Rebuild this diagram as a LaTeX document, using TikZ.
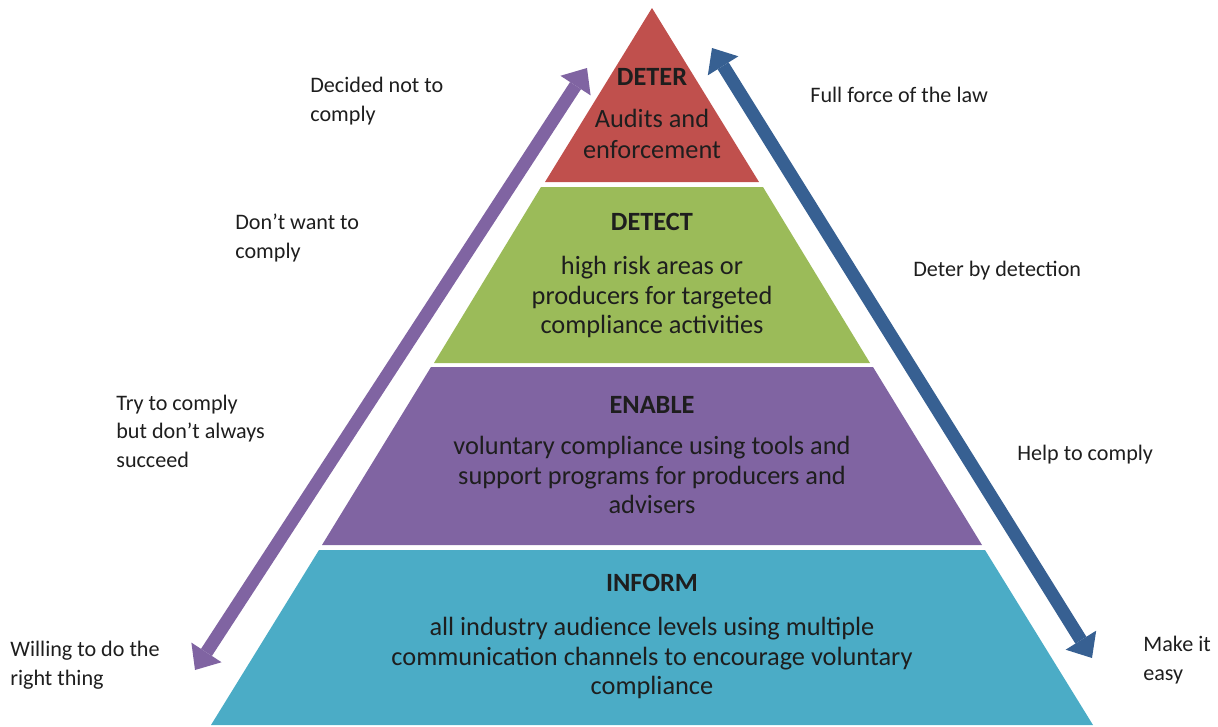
\documentclass[tikz,border=0pt]{standalone}
\usepackage{fontspec}
\setmainfont{Carlito}
\usepackage{tikz}
\usetikzlibrary{arrows.meta, positioning, calc}
\definecolor{deterred}{RGB}{192,80,77}
\definecolor{detectgreen}{RGB}{155,187,89}
\definecolor{enablepurple}{RGB}{128,100,162}
\definecolor{informteal}{RGB}{75,172,198}
\definecolor{arrowblue}{RGB}{55,96,146}
\definecolor{textgrey}{RGB}{30,30,30}
\tikzset{
  layer/.style={draw=none},
  title/.style={
      font=\fontsize{15}{18}\selectfont\bfseries,
      text=textgrey,
      inner sep=0pt
  },
  body/.style={
      font=\fontsize{15}{16.8}\selectfont,
      text=textgrey,
      align=center,
      inner sep=0pt
  },
  side/.style={
      font=\fontsize{12.6}{16.2}\selectfont,
      text=textgrey,
      align=left,
      anchor=west,
      inner sep=0pt
  },
  bigarrow/.style={
      line width=0.26cm,
      {Triangle[width=0.72cm,length=0.42cm,line width=0pt]}-{Triangle[width=0.72cm,length=0.42cm,line width=0pt]}
  }
}

\begin{document}
\begin{tikzpicture}[x=0.02cm, y=-0.02cm]
      \useasboundingbox (0,0) rectangle (1218,727);

      % Pyramid layers
      \fill[deterred] (652,8) -- (759,182) -- (545,182) -- cycle;
      \fill[detectgreen] (541,187) -- (763,187) -- (870,363) -- (434,363) -- cycle;
      \fill[enablepurple] (431,367) -- (873,367) -- (982,545) -- (322,545) -- cycle;
      \fill[informteal] (319,550) -- (985,550) -- (1093,725) -- (211,725) -- cycle;

      % Layer texts
      \node (deter) [title] at (652,77) {DETER};
      \node (deterbody) [body, font=\fontsize{15}{18}\selectfont] at (652,134) {Audits and\\enforcement};
      \node (detect) [title] at (652,222) {DETECT};
      \node (detectbody) [body] at (652,297) {high risk areas or\\producers for targeted\\compliance activities};
      \node (enable) [title] at (652,405) {ENABLE};
      \node (enablebody) [body] at (652,475) {voluntary compliance using tools and\\support programs for producers and\\advisers};
      \node (inform) [title] at (652,583) {INFORM};
      \node (informbody) [body] at (652,658) {all industry audience levels using multiple\\communication channels to encourage voluntary\\compliance};

      % Arrows
      \coordinate (leftup) at (587,68);
      \coordinate (leftdown) at (195,670);
      \coordinate (rightup) at (712,48);
      \coordinate (rightdown) at (1092,658);
      \draw[bigarrow, enablepurple] (leftup) -- (leftdown);
      \draw[bigarrow, arrowblue] (rightup) -- (rightdown);

      % Left labels
      \node (decided) [side] at (310,101) {Decided not to\\comply};
      \node (dontwant) [side] at (235,238) {Don’t want to\\comply};
      \node (trycomply) [side] at (116,431) {Try to comply\\but don’t always\\succeed};
      \node (willing) [side] at (10,665) {Willing to do the\\right thing};

      % Right labels
      \node (fullforce) [side] at (810,95) {Full force of the law};
      \node (deterdet) [side] at (913,271) {Deter by detection};
      \node (helpcomply) [side] at (1017,455) {Help to comply};
      \node (makeeasy) [side] at (1143,660) {Make it\\easy};
    \end{tikzpicture}
\end{document}
